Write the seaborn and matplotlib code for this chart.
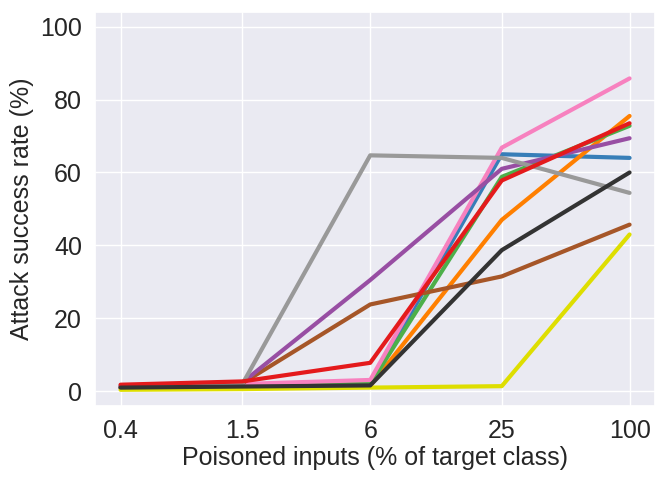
import pandas as pd
import numpy as np
import matplotlib
matplotlib.use('Agg')
import matplotlib.pyplot as plt
import seaborn as sns

# %% Data
poison_pct = [0.4, 1.5, 6, 25, 100]
tick_labels = ['0.4', '1.5', '6', '25', '100']

blue = [1.5, 2.0, 1.8, 65.0, 64.0]
orange = [1.0, 1.5, 1.5, 47.0, 75.5]
green = [1.2, 1.8, 2.0, 58.8, 72.8]
pink = [1.3, 2.0, 3.1, 66.8, 85.8]
brown = [1.0, 2.2, 23.8, 31.5, 45.7]
purple = [1.2, 2.4, 30.5, 61.0, 69.4]
gray = [1.0, 2.0, 64.7, 64.0, 54.4]
red = [1.8, 2.7, 7.8, 57.8, 73.5]
yellow = [0.4, 0.6, 1.0, 1.4, 43.0]
black = [1.0, 1.3, 1.6, 38.7, 60.0]

series = {'blue': blue, 'orange': orange, 'green': green, 'pink': pink,
          'brown': brown, 'purple': purple, 'gray': gray, 'red': red,
          'yellow': yellow, 'black': black}
colors = ['#377eb8', '#ff7f00', '#4daf4a', '#f781bf', '#a65628',
          '#984ea3', '#999999', '#e41a1c', '#dede00', '#333333']

# %% Long-form table
rows = []
for name, vals in series.items():
    for x, y in zip(poison_pct, vals):
        rows.append({'run': name, 'pct': x, 'asr': y})
df = pd.DataFrame(rows)

# %% Plot
sns.set_theme(style='darkgrid')
plt.rcParams['font.family'] = ['Liberation Sans', 'DejaVu Sans']

fig = plt.figure(figsize=(6.65, 4.82), dpi=100)
ax = fig.add_axes([0.143, 0.158, 0.842, 0.817])
sns.lineplot(data=df, x='pct', y='asr', hue='run', palette=colors,
             linewidth=3.0, legend=False, ax=ax)
ax.set_xscale('log')
ax.set_xticks(poison_pct)
ax.set_xticklabels(tick_labels)
ax.minorticks_off()
ax.set_ylim(-4, 104)
ax.set_yticks([0, 20, 40, 60, 80, 100])
ax.tick_params(labelsize=18)
ax.set_xlabel('Poisoned inputs (% of target class)', fontsize=18, labelpad=2)
ax.set_ylabel('Attack success rate (%)', fontsize=18)
fig.savefig('out.png', dpi=100)
